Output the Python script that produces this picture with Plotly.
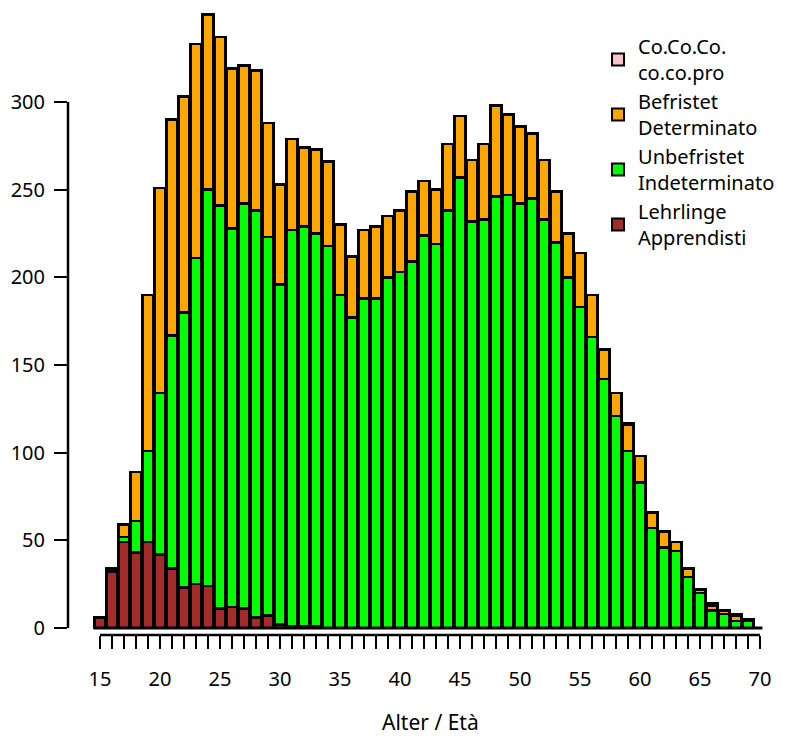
import plotly.graph_objects as go

# ages 15..69, one bar per year
ages = list(range(15, 70))

lehrlinge = [6, 32, 49, 43, 49, 42, 34, 23, 25, 24, 11, 12, 11, 6, 7, 2, 1, 1, 1, 0,
             0, 0, 0, 0, 0, 0, 0, 0, 0, 0, 0, 0, 0, 0, 0, 0, 0, 0, 0, 0,
             0, 0, 0, 0, 0, 0, 0, 0, 0, 0, 0, 0, 0, 0, 0]
unbefristet = [0, 1, 3, 18, 52, 92, 133, 157, 186, 226, 230, 216, 231, 232, 216, 194, 226, 228, 224, 218,
               190, 177, 188, 188, 200, 203, 209, 224, 219, 238, 257, 232, 233, 246, 247, 242, 245, 233, 220, 200,
               183, 166, 142, 121, 101, 83, 57, 46, 44, 29, 20, 10, 8, 4, 4]
befristet = [0, 1, 7, 28, 89, 117, 123, 123, 122, 100, 96, 91, 79, 80, 65, 57, 52, 45, 48, 48,
             40, 35, 39, 41, 35, 35, 40, 31, 31, 38, 35, 35, 43, 52, 46, 44, 37, 34, 29, 25,
             31, 24, 17, 13, 15, 15, 9, 9, 5, 5, 2, 3, 2, 3, 1]
cococo = [0, 0, 0, 0, 0, 0, 0, 0, 0, 0, 0, 0, 0, 0, 0, 0, 0, 0, 0, 0,
          0, 0, 0, 0, 0, 0, 0, 0, 0, 0, 0, 0, 0, 0, 0, 0, 0, 0, 0, 0,
          0, 0, 0, 0, 1, 0, 0, 0, 0, 0, 0, 1, 0, 1, 0]

x_ticks = list(range(15, 71))
y_ticks = [0, 50, 100, 150, 200, 250, 300]

series = [
    ("Lehrlinge<br>Apprendisti", lehrlinge, "#A52A2A"),
    ("Unbefristet<br>Indeterminato", unbefristet, "#00FF00"),
    ("Befristet<br>Determinato", befristet, "#FFA500"),
    ("Co.Co.Co.<br>co.co.pro", cococo, "#FFC0CB"),
]

fig = go.Figure()
for name, values, colour in series:
    fig.add_trace(go.Bar(x=ages, y=values, name=name, width=0.95,
                         marker=dict(color=colour, line=dict(color="black", width=2.6))))

font = dict(family="Noto Sans", size=20, color="black")

# the page adds 8px of body margin, margins below are set with that in mind
fig.update_layout(
    width=787, height=737,
    barmode="stack",
    plot_bgcolor="white", paper_bgcolor="white",
    font=font,
    margin=dict(l=60, r=25, t=2, b=110, autoexpand=False),
    showlegend=True,
    legend=dict(x=0.755, y=0.973, xanchor="left", yanchor="top", traceorder="reversed",
                font=dict(family="Noto Sans", size=20, color="black"),
                bgcolor="rgba(0,0,0,0)", itemsizing="constant"),
    xaxis=dict(range=[12.333, 70.833], tickvals=x_ticks, automargin=False,
               ticktext=[str(t) if t % 5 == 0 else "" for t in x_ticks],
               ticks="outside", ticklen=13, tickwidth=2, tickcolor="black",
               showgrid=False, zeroline=False, showline=False,
               ticklabelstandoff=13),
    yaxis=dict(range=[-3.99, 352.5], tickvals=y_ticks, automargin=False,
               ticks="outside", ticklen=13, tickwidth=2, tickcolor="black",
               showgrid=False, zeroline=False, showline=False,
               ticklabelstandoff=5),
)

# axis title centred under the tick range, like the original
fig.add_annotation(text="Alter / Età", x=(x_ticks[0] + x_ticks[-1]) / 2, xref="x",
                   y=0, yref="paper", yanchor="middle", yshift=-87, showarrow=False,
                   font=dict(family="Noto Sans", size=21, color="black"))

# R style axis lines that only span the tick range
fig.add_shape(type="line", xref="paper", yref="y", x0=0, x1=0, y0=y_ticks[0], y1=y_ticks[-1],
              line=dict(color="black", width=2.5))
fig.add_shape(type="line", xref="x", yref="paper", x0=x_ticks[0], x1=x_ticks[-1], y0=0, y1=0,
              line=dict(color="black", width=2.5))
# baseline under the bars
fig.add_shape(type="line", xref="x", yref="y", x0=ages[0] - 0.5, x1=ages[-1] + 1.2, y0=0, y1=0,
              line=dict(color="black", width=3))

fig.write_html("out.html")
